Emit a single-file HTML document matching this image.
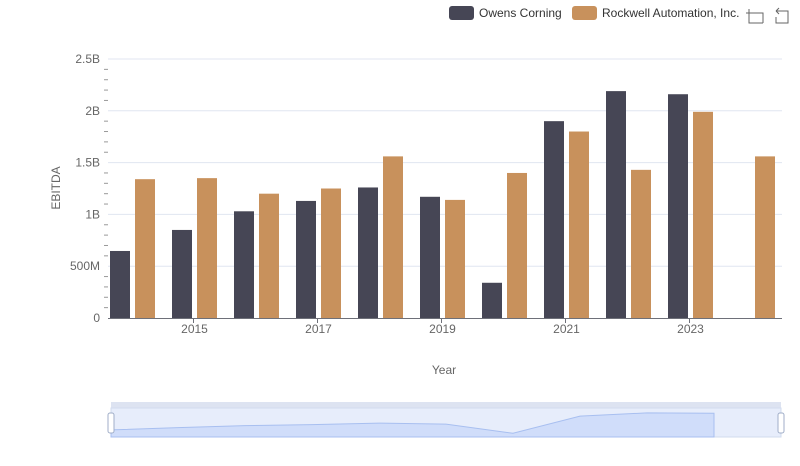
<!DOCTYPE html>
<html><head><meta charset="utf-8"><style>
body{margin:0;background:#fff;font-family:"Liberation Sans",sans-serif}
svg text{font-family:"Liberation Sans",sans-serif}
</style></head><body>
<svg id="c" width="800" height="461">
<g id="grid"></g>
<g id="bars"></g>
<g id="axes"></g>
<text x="444" y="374" font-size="12" fill="#666" text-anchor="middle">Year</text>
<text x="60" y="188" font-size="12" fill="#666" text-anchor="middle" transform="rotate(-90 60 188)">EBITDA</text>
<g>
<g><rect x="449" y="6" width="25" height="14" rx="3" fill="#464655"/><text x="479" y="17" font-size="12" fill="#333">Owens Corning</text></g>
<g><rect x="572" y="6" width="25" height="14" rx="3" fill="#c8915c"/><text x="602" y="17" font-size="12" fill="#333">Rockwell Automation, Inc.</text></g>
</g>
<g stroke="#666" fill="none"><path d="M749 9v14h14M753 13h10v10M746 13h7"/></g>
<g stroke="#666" fill="none"><path d="M776 11h12v12h-12v-6M776 11l3-3M776 11l3 3"/></g>
<g id="dz"></g>
</svg>
<script>
const years=[2014,2015,2016,2017,2018,2019,2020,2021,2022,2023,2024];
const owens=[0.647,0.85,1.03,1.13,1.26,1.17,0.34,1.90,2.19,2.16,null];
const rockwell=[1.34,1.35,1.20,1.25,1.56,1.14,1.40,1.80,1.43,1.99,1.56];
const yTicks=[0,0.5,1,1.5,2,2.5];
const yTickLabels=["0","500M","1B","1.5B","2B","2.5B"];
const xTickLabels=["2015","2017","2019","2021","2023"];
const NS="http://www.w3.org/2000/svg";
function mk(p,t,a){const e=document.createElementNS(NS,t);for(const k in a)e.setAttribute(k,a[k]);p.appendChild(e);return e;}
const y=v=>318-v*103.6;
const xc=i=>132.5+62*i;
const grid=document.getElementById('grid'),bars=document.getElementById('bars'),axes=document.getElementById('axes');
yTicks.forEach((t,i)=>{
 if(i>0){const l=mk(grid,'line',{x1:108,x2:782,y1:y(t),y2:y(t),stroke:'#e0e6f1'});
 
 }
 const tx=mk(axes,'text',{x:100,y:y(t)+4,'font-size':12,fill:'#666','text-anchor':'end'});tx.textContent=yTickLabels[i];
 
 
 for(let m=1;m<5&&i<5;m++){mk(axes,'line',{x1:104,x2:108,y1:y(t+m*0.1),y2:y(t+m*0.1),stroke:'#999'});}
});
years.forEach((yr,i)=>{
 if(owens[i]!=null){const r=mk(bars,'rect',{x:xc(i)-22.5,y:y(owens[i]),width:20,height:318-y(owens[i]),fill:'#464655'});
 
 }
 const r2=mk(bars,'rect',{x:xc(i)+2.5,y:y(rockwell[i]),width:20,height:318-y(rockwell[i]),fill:'#c8915c'});
 
 
});
mk(axes,'line',{x1:108,x2:782,y1:318.5,y2:318.5,stroke:'#6e7079'});
xTickLabels.forEach(lb=>{const i=years.indexOf(+lb);
 mk(axes,'line',{x1:xc(i)-1,x2:xc(i)-1,y1:318,y2:323,stroke:'#6e7079'});
 const t=mk(axes,'text',{x:xc(i),y:333,'font-size':12,fill:'#666','text-anchor':'middle'});t.textContent=lb;
 
 
});
const dz=document.getElementById('dz');
mk(dz,'rect',{x:111,y:402,width:670,height:6,fill:'#dde3f1'});
mk(dz,'rect',{x:111,y:408,width:670,height:29,fill:'#e7edfb',stroke:'#d2dbee'});
const dx=i=>111+67*i, dy=v=>437-v*11;
let d='M111 437';owens.forEach((v,i)=>{if(v!=null)d+=' L'+dx(i)+' '+dy(v);});d+=' L'+dx(9)+' 437Z';
mk(dz,'path',{d:d,fill:'#d0ddfa',stroke:'#a8bff0'});
[111,781].forEach(x=>{mk(dz,'rect',{x:x-3,y:413,width:6,height:20,rx:2,fill:'#fff',stroke:'#a0aec8'});});
</script>
</body></html>
